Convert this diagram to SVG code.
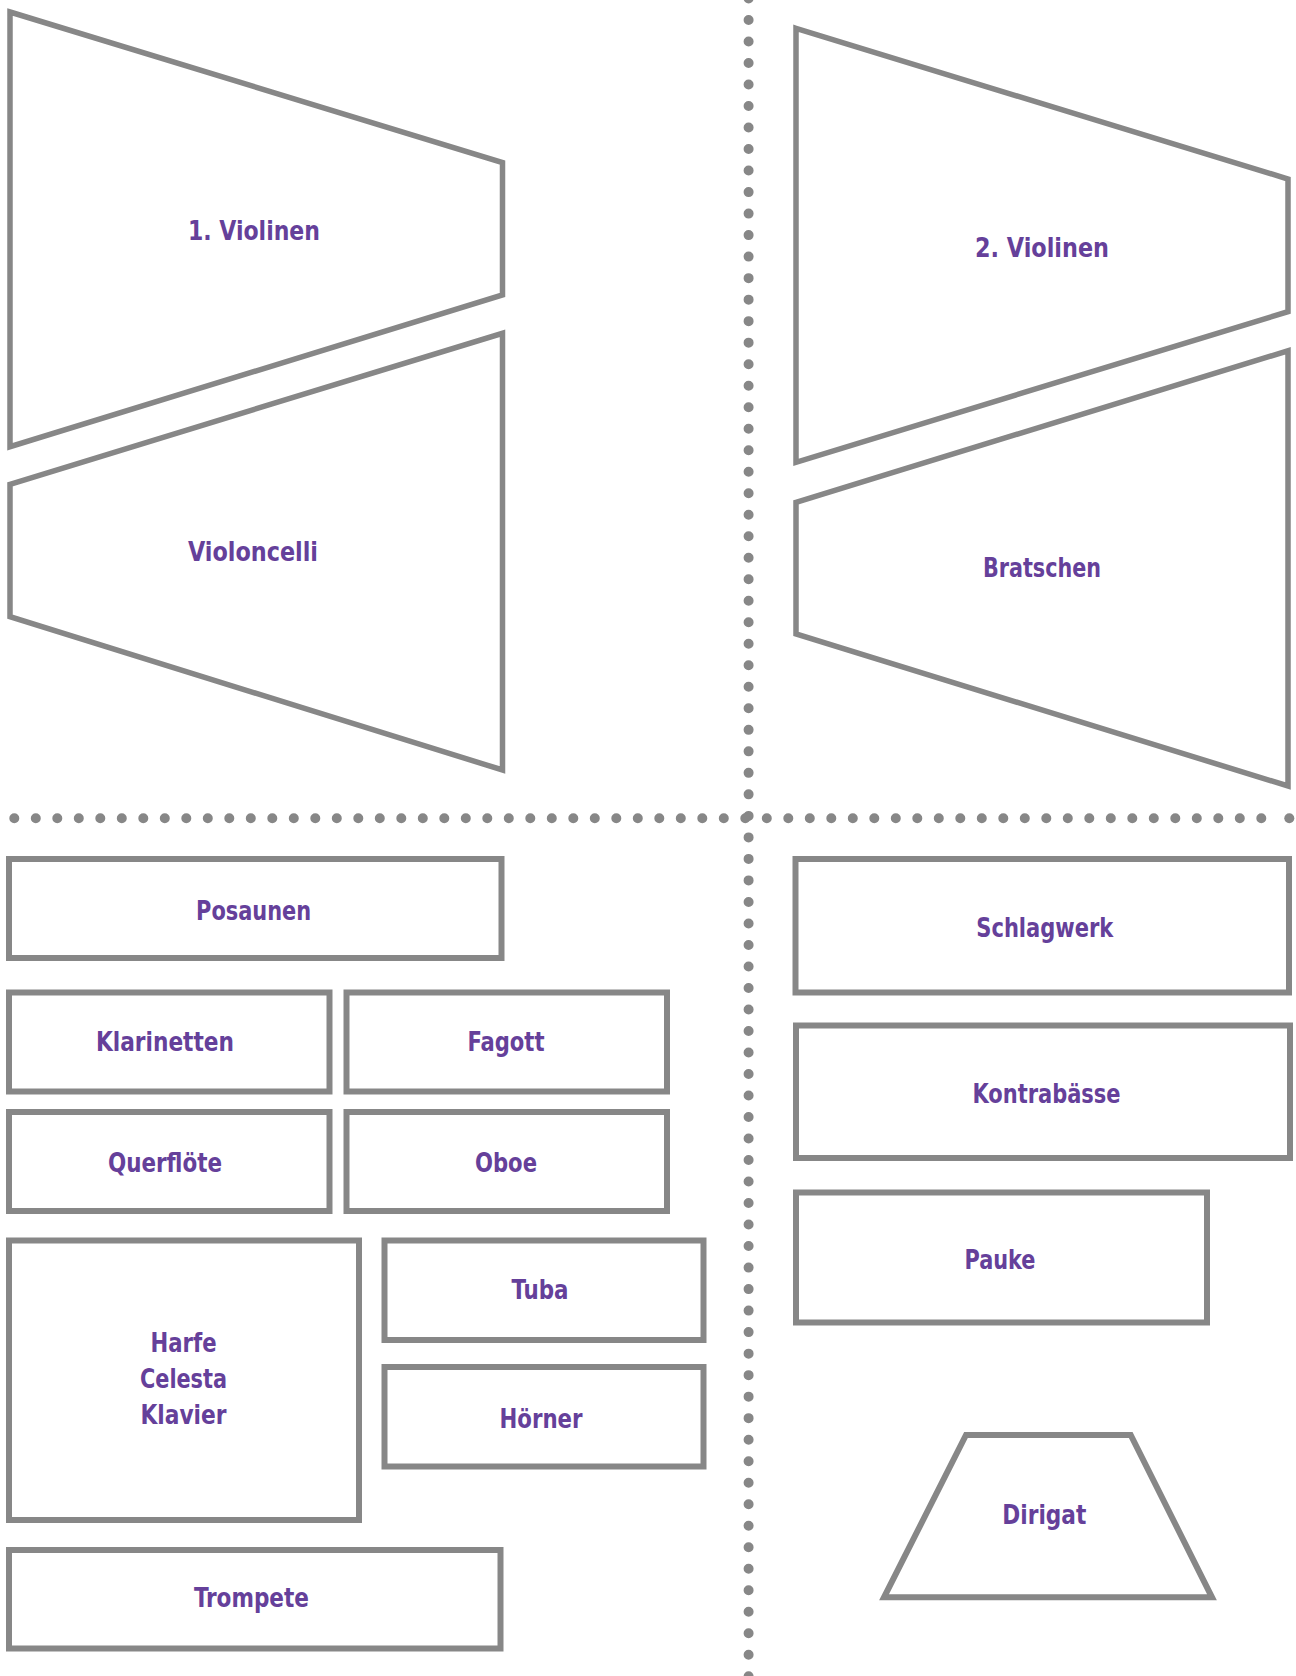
<svg xmlns="http://www.w3.org/2000/svg" width="1296" height="1676" viewBox="0 0 1296 1676">
<style>
.shape{fill:#ffffff;stroke:#878787;stroke-width:6;stroke-linejoin:miter}
.trap{fill:#ffffff;stroke:#878787;stroke-width:5.5;stroke-linejoin:miter}
.lbl{font-family:"DejaVu Sans Condensed","DejaVu Sans",sans-serif;font-stretch:condensed;font-weight:bold;font-size:27px;fill:#65409a;text-anchor:middle}
.dots{fill:none;stroke:#878787;stroke-width:10;stroke-linecap:round;stroke-dasharray:0 21.5}
</style>
<rect width="1296" height="1676" fill="#ffffff"/>
<g id="dividers">
<path class="dots" d="M748.6 -1.5 V1680" style="stroke-dasharray:0 21.51"/>
<path class="dots" d="M14.3 818.3 H1262"/>
<circle cx="1289.3" cy="818.3" r="5" fill="#878787"/>
</g>
<g id="n-violinen1">
<polygon class="trap" points="10,12 502.5,162.5 502.5,295 10,446.7"/>
<text class="lbl" x="254" y="240" textLength="132" lengthAdjust="spacingAndGlyphs">1. Violinen</text>
</g>
<g id="n-violoncelli">
<polygon class="trap" points="10,484.3 502.5,333.3 502.5,770 10,616.7"/>
<text class="lbl" x="253" y="561" textLength="130" lengthAdjust="spacingAndGlyphs">Violoncelli</text>
</g>
<g id="n-violinen2">
<polygon class="trap" points="796,28.3 1288,179 1288,311.7 796,462.3"/>
<text class="lbl" x="1042" y="257" textLength="134" lengthAdjust="spacingAndGlyphs">2. Violinen</text>
</g>
<g id="n-bratschen">
<polygon class="trap" points="796,502.3 1288,350.8 1288,786 796,634"/>
<text class="lbl" x="1042" y="577" textLength="118" lengthAdjust="spacingAndGlyphs">Bratschen</text>
</g>
<g id="n-posaunen">
<rect class="shape" x="9" y="859" width="492.5" height="99"/>
<text class="lbl" x="253.6" y="920" textLength="115" lengthAdjust="spacingAndGlyphs">Posaunen</text>
</g>
<g id="n-klarinetten">
<rect class="shape" x="9" y="992.5" width="320.5" height="99"/>
<text class="lbl" x="165" y="1051" textLength="138" lengthAdjust="spacingAndGlyphs">Klarinetten</text>
</g>
<g id="n-fagott">
<rect class="shape" x="346.5" y="992.5" width="320.5" height="99"/>
<text class="lbl" x="506" y="1051" textLength="77" lengthAdjust="spacingAndGlyphs">Fagott</text>
</g>
<g id="n-querfloete">
<rect class="shape" x="9" y="1112" width="320.5" height="99"/>
<text class="lbl" x="165" y="1171.5" textLength="114" lengthAdjust="spacingAndGlyphs">Querflöte</text>
</g>
<g id="n-oboe">
<rect class="shape" x="346.5" y="1112" width="320.5" height="99"/>
<text class="lbl" x="506" y="1171.5" textLength="62" lengthAdjust="spacingAndGlyphs">Oboe</text>
</g>
<g id="n-harfe">
<rect class="shape" x="9" y="1240.5" width="350" height="279.5"/>
<text class="lbl" x="183.5" y="1352.3" textLength="66" lengthAdjust="spacingAndGlyphs">Harfe</text>
<text class="lbl" x="183.5" y="1388.3" textLength="87" lengthAdjust="spacingAndGlyphs">Celesta</text>
<text class="lbl" x="183.5" y="1424" textLength="86" lengthAdjust="spacingAndGlyphs">Klavier</text>
</g>
<g id="n-tuba">
<rect class="shape" x="384.5" y="1240.5" width="319" height="99.5"/>
<text class="lbl" x="540" y="1299.3" textLength="57" lengthAdjust="spacingAndGlyphs">Tuba</text>
</g>
<g id="n-hoerner">
<rect class="shape" x="384.5" y="1367" width="319" height="99.5"/>
<text class="lbl" x="541" y="1428.3" textLength="83" lengthAdjust="spacingAndGlyphs">Hörner</text>
</g>
<g id="n-trompete">
<rect class="shape" x="9" y="1550" width="491.5" height="98.5"/>
<text class="lbl" x="251.4" y="1607.3" textLength="115" lengthAdjust="spacingAndGlyphs">Trompete</text>
</g>
<g id="n-schlagwerk">
<rect class="shape" x="795.5" y="859" width="493.5" height="133.5"/>
<text class="lbl" x="1044.8" y="936.7" textLength="137" lengthAdjust="spacingAndGlyphs">Schlagwerk</text>
</g>
<g id="n-kontrabaesse">
<rect class="shape" x="796" y="1025.5" width="494" height="132.5"/>
<text class="lbl" x="1046.5" y="1103.3" textLength="148" lengthAdjust="spacingAndGlyphs">Kontrabässe</text>
</g>
<g id="n-pauke">
<rect class="shape" x="796" y="1192.5" width="411" height="130"/>
<text class="lbl" x="1000" y="1269.3" textLength="71" lengthAdjust="spacingAndGlyphs">Pauke</text>
</g>
<g id="n-dirigat">
<polygon class="shape" points="966,1435 1130.7,1435 1212,1597.3 884,1597.3"/>
<text class="lbl" x="1044.3" y="1524.3" textLength="84" lengthAdjust="spacingAndGlyphs">Dirigat</text>
</g>
</svg>
